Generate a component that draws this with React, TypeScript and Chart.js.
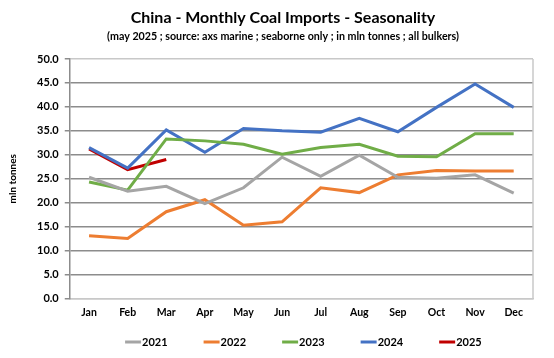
import React, { useEffect, useRef } from "react";
import { Chart, registerables } from "chart.js";

Chart.register(...registerables);

const months = ["Jan", "Feb", "Mar", "Apr", "May", "Jun", "Jul", "Aug", "Sep", "Oct", "Nov", "Dec"];
const yearLabels = ["2021", "2022", "2023", "2024", "2025"];
const v2021 = [25.3, 22.4, 23.4, 19.8, 23.1, 29.5, 25.5, 29.9, 25.3, 25.1, 25.8, 22.0];
const v2022 = [13.1, 12.5, 18.1, 20.6, 15.3, 16.0, 23.1, 22.1, 25.8, 26.7, 26.6, 26.6];
const v2023 = [24.3, 22.6, 33.3, 32.9, 32.2, 30.1, 31.5, 32.2, 29.7, 29.6, 34.4, 34.4];
const v2024 = [31.5, 27.2, 35.2, 30.5, 35.5, 35.0, 34.7, 37.6, 34.8, 39.9, 44.8, 39.9];
const v2025 = [31.2, 26.9, 29.0];
const colors = ["#A5A5A5", "#ED7D31", "#70AD47", "#4472C4", "#C00000"];
const titleText = "China - Monthly Coal Imports - Seasonality";
const subtitleText = "(may 2025 ; source: axs marine ; seaborne only ; in mln tonnes ; all bulkers)";

const FONT = "Lato, 'Liberation Sans', sans-serif";

const decorations = {
  id: "decorations",
  beforeDatasetsDraw(chart: any) {
    const { ctx, chartArea } = chart;
    ctx.save();
    ctx.strokeStyle = "#C8C8C8";
    ctx.lineWidth = 1.5;
    ctx.beginPath();
    ctx.moveTo(chartArea.right, chartArea.top);
    ctx.lineTo(chartArea.right, chartArea.bottom);
    ctx.stroke();
    ctx.restore();
  },
  afterDraw(chart: any) {
    const { ctx, chartArea } = chart;
    ctx.save();
    // headers
    ctx.fillStyle = "#000";
    ctx.textAlign = "center";
    ctx.textBaseline = "alphabetic";
    ctx.font = `bold 16px ${FONT}`;
    ctx.fillText(titleText, 283, 22.5);
    ctx.font = `bold 10.7px ${FONT}`;
    ctx.fillText(subtitleText, 283, 40);
    // legend
    ctx.font = `bold 11px ${FONT}`;
    ctx.textAlign = "left";
    ctx.textBaseline = "middle";
    const lineW = 16;
    const gap = 36;
    const ds = chart.data.datasets;
    const widths = ds.map((d: any) => lineW + 1 + ctx.measureText(d.label).width);
    const total = widths.reduce((a: number, b: number) => a + b, 0) + gap * (ds.length - 1);
    let x = (chartArea.left + chartArea.right) / 2 + 2 - total / 2;
    const y = 342;
    ds.forEach((d: any, i: number) => {
      ctx.strokeStyle = d.borderColor;
      ctx.lineWidth = 3;
      ctx.beginPath();
      ctx.moveTo(x, y);
      ctx.lineTo(x + lineW, y);
      ctx.stroke();
      ctx.fillStyle = "#000";
      ctx.fillText(d.label, x + lineW + 1, y + 0.5);
      x += widths[i] + gap;
    });
    ctx.restore();
  },
};

export default function App() {
  const ref = useRef<HTMLCanvasElement>(null);
  useEffect(() => {
    if (!ref.current) return;
    const series = [v2021, v2022, v2023, v2024, v2025];
    const chart = new Chart(ref.current, {
      type: "line",
      data: {
        labels: months,
        datasets: series.map((d, i) => ({
          label: yearLabels[i],
          data: d,
          borderColor: colors[i],
          backgroundColor: colors[i],
          borderWidth: 3,
          pointRadius: 0,
          tension: 0,
        })),
      },
      options: {
        animation: false,
        responsive: false,
        maintainAspectRatio: false,
        layout: { padding: { left: 2, right: 21, top: 59, bottom: 39 } },
        plugins: {
          title: { display: false },
          subtitle: { display: false },
          legend: { display: false },
          tooltip: { enabled: false },
        },
        scales: {
          x: {
            offset: true,
            grid: { display: false, drawTicks: true, tickLength: 8 },
            border: { display: true, color: "#C8C8C8", width: 1.5 },
            ticks: { color: "#000", font: { family: FONT, size: 10.5, weight: "bold" }, padding: 0 },
          },
          y: {
            min: 0,
            max: 50,
            ticks: {
              stepSize: 5,
              color: "#000",
              padding: 6,
              font: { family: FONT, size: 11, weight: "bold" },
              callback: (v: any) => Number(v).toFixed(1),
            },
            grid: {
              color: (c: any) => (c.tick && (c.tick.value === 0 || c.tick.value === 50) ? "#C8C8C8" : "#8C8C8C"),
              lineWidth: 1.5,
              drawTicks: true,
              tickLength: 5,
              tickColor: "#8C8C8C",
            },
            border: { display: true, color: "#8C8C8C", width: 1.5 },
            title: {
              display: true,
              text: "mln tonnes",
              color: "#000",
              font: { family: FONT, size: 10, weight: "bold" },
              padding: { top: 5, bottom: 12 },
            },
          },
        },
      },
      plugins: [decorations],
    });
    return () => chart.destroy();
  }, []);
  return (
    <div style={{ position: "absolute", left: 0, top: 0, width: 554, height: 358, background: "#fff" }}>
      <canvas ref={ref} width={554} height={358} style={{ width: 554, height: 358 }} />
    </div>
  );
}
